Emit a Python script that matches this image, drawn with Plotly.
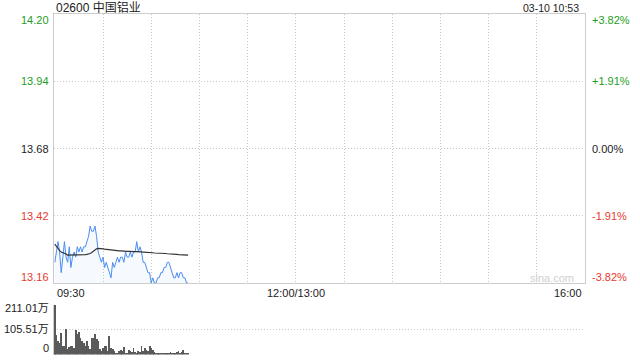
import plotly.graph_objects as go

# ---------------- data ----------------
minutes = list(range(84))  # minutes since 09:30

price = [13.24, 13.28, 13.32, 13.28, 13.20, 13.26, 13.32, 13.26, 13.24, 13.30,
         13.22, 13.26, 13.28, 13.26, 13.30, 13.28, 13.30, 13.28, 13.30, 13.30,
         13.32, 13.34, 13.38, 13.36, 13.36, 13.38, 13.34, 13.28, 13.26, 13.24,
         13.26, 13.22, 13.24, 13.22, 13.20, 13.18, 13.24, 13.22, 13.24, 13.26,
         13.24, 13.26, 13.26, 13.24, 13.28, 13.26, 13.26, 13.28, 13.26, 13.28,
         13.28, 13.32, 13.28, 13.30, 13.28, 13.24, 13.24, 13.22, 13.20, 13.20,
         13.16, 13.18, 13.16, 13.16, 13.18, 13.18, 13.20, 13.20, 13.22, 13.22,
         13.24, 13.24, 13.22, 13.20, 13.18, 13.18, 13.20, 13.18, 13.20, 13.20,
         13.18, 13.18, 13.16, 13.16]

avg_price = [13.310, 13.300, 13.290, 13.285, 13.280, 13.278, 13.275, 13.272, 13.268, 13.268,
             13.268, 13.268, 13.268, 13.268, 13.268, 13.268, 13.268, 13.268, 13.269, 13.270,
             13.271, 13.272, 13.274, 13.278, 13.283, 13.288, 13.292, 13.294, 13.294, 13.293,
             13.292, 13.291, 13.290, 13.289, 13.288, 13.287, 13.286, 13.285, 13.285, 13.284,
             13.284, 13.284, 13.283, 13.283, 13.283, 13.282, 13.282, 13.282, 13.281, 13.281,
             13.281, 13.281, 13.280, 13.280, 13.280, 13.279, 13.279, 13.278, 13.278, 13.278,
             13.277, 13.277, 13.276, 13.276, 13.276, 13.275, 13.275, 13.274, 13.274, 13.274,
             13.273, 13.273, 13.272, 13.272, 13.272, 13.271, 13.271, 13.270, 13.270, 13.270,
             13.269, 13.269, 13.268, 13.268]

volume = [211.01, 85, 58, 50, 90, 36, 36, 107, 22, 33,
          36, 36, 28, 104, 87, 97, 72, 58, 51, 36,
          58, 36, 22, 72, 72, 87, 65, 58, 22, 15,
          29, 36, 36, 15, 80, 26, 22, 15, 7, 7,
          14, 21, 17, 31, 7, 3, 21, 14, 11, 28,
          11, 7, 14, 11, 36, 14, 26, 21, 17, 36,
          28, 21, 11, 3, 3, 7, 7, 3, 7, 3,
          3, 7, 11, 7, 3, 7, 11, 14, 7, 11,
          21, 3, 5, 8]

prev_close = 13.68
price_ticks = [14.20, 13.94, 13.68, 13.42, 13.16]
price_labels = ["14.20", "13.94", "13.68", "13.42", "13.16"]
pct_labels = ["+3.82%", "+1.91%", "0.00%", "-1.91%", "-3.82%"]
vol_ticks = [211.01, 105.505, 0]
vol_labels = ["211.01万", "105.51万", "0"]
time_labels = ["09:30", "12:00/13:00", "16:00"]
title_text = "02600 中国铝业"
stamp_text = "03-10 10:53"

# ---------------- style ----------------
W, H = 640, 360
FONT = "Liberation Sans, Arial, Noto Sans CJK SC, sans-serif"
GREEN = "#1e9e1e"
RED = "#e8392f"
BLACK = "#222222"
GRID = "#c8c8c8"
BORDER = "#cccccc"
DASH = "1px,2px"

xd = [54 / W, 585 / W]
price_dom = [1 - 283 / H, 1 - 14 / H]
vol_dom = [1 - 354.5 / H, 1 - 305 / H]

fig = go.Figure()

fig.add_trace(go.Scatter(
    x=minutes, y=price, mode="lines",
    line=dict(color="#4a8ef0", width=1),
    fill="tozeroy", fillcolor="rgba(74,142,240,0.05)",
    xaxis="x", yaxis="y", showlegend=False, hoverinfo="skip"))

fig.add_trace(go.Scatter(
    x=minutes, y=avg_price, mode="lines",
    line=dict(color="#333333", width=1.2),
    xaxis="x", yaxis="y", showlegend=False, hoverinfo="skip"))

fig.add_trace(go.Bar(
    x=minutes, y=volume, width=0.55,
    marker=dict(color="#5a5a5a", line=dict(width=0)),
    xaxis="x2", yaxis="y2", showlegend=False, hoverinfo="skip"))

fig.update_layout(
    width=W, height=H,
    margin=dict(l=0, r=0, t=0, b=0),
    paper_bgcolor="white", plot_bgcolor="white",
    font=dict(family=FONT, size=11, color=BLACK),
    bargap=0,
    xaxis=dict(domain=xd, range=[-0.5, 330], anchor="y",
               tickvals=list(range(30, 330, 30)), showticklabels=False,
               showgrid=True, gridcolor=GRID, griddash=DASH, gridwidth=1,
               showline=True, mirror=True, linecolor=BORDER, linewidth=1,
               zeroline=False, ticks=""),
    yaxis=dict(domain=price_dom, range=[13.16, 14.20], anchor="x",
               tickvals=[13.42, 13.68, 13.94], showticklabels=False,
               showgrid=True, gridcolor=GRID, griddash=DASH, gridwidth=1,
               showline=True, mirror=True, linecolor=BORDER, linewidth=1,
               zeroline=False, ticks=""),
    xaxis2=dict(domain=xd, range=[-0.5, 330], anchor="y2",
                showticklabels=False, showgrid=False, showline=False,
                zeroline=False, ticks=""),
    yaxis2=dict(domain=vol_dom, range=[0, 211.01], anchor="x2",
                tickvals=vol_ticks, showticklabels=False,
                showgrid=True, gridcolor=GRID, griddash=DASH, gridwidth=1,
                showline=True, linecolor=BORDER, linewidth=1,
                zeroline=False, ticks=""),
)

ann = []
colors = [GREEN, GREEN, BLACK, RED, RED]
shifts = [-6, 0, 0, 0, 6]
for v, t, p, c, s in zip(price_ticks, price_labels, pct_labels, colors, shifts):
    ann.append(dict(x=51 / W, xref="paper", y=v, yref="y", yshift=s,
                    text=t, showarrow=False, xanchor="right", yanchor="middle",
                    font=dict(size=11, color=c)))
    ann.append(dict(x=590 / W, xref="paper", y=v, yref="y", yshift=s,
                    text=p, showarrow=False, xanchor="left", yanchor="middle",
                    font=dict(size=11, color=c)))

vshifts = [-3, 1, 7]
for v, t, s in zip(vol_ticks, vol_labels, vshifts):
    ann.append(dict(x=51 / W, xref="paper", y=v, yref="y2", yshift=s,
                    text=t, showarrow=False, xanchor="right", yanchor="middle",
                    font=dict(size=11, color=BLACK)))

ann.append(dict(x=55 / W, xref="paper", y=1 - 293 / H, yref="paper",
                text=time_labels[0], showarrow=False, xanchor="left", yanchor="middle",
                font=dict(size=11, color=BLACK)))
ann.append(dict(x=150, xref="x", y=1 - 293 / H, yref="paper",
                text=time_labels[1], showarrow=False, xanchor="center", yanchor="middle",
                font=dict(size=11, color=BLACK)))
ann.append(dict(x=584 / W, xref="paper", y=1 - 293 / H, yref="paper",
                text=time_labels[2], showarrow=False, xanchor="right", yanchor="middle",
                font=dict(size=11, color=BLACK)))

ann.append(dict(x=54 / W, xref="paper", y=1 - 7.5 / H, yref="paper",
                text=title_text, showarrow=False, xanchor="left", yanchor="middle",
                font=dict(size=12, color=BLACK)))
ann.append(dict(x=581 / W, xref="paper", y=1 - 7.5 / H, yref="paper",
                text=stamp_text, showarrow=False, xanchor="right", yanchor="middle",
                font=dict(size=10.5, color=BLACK)))
ann.append(dict(x=552 / W, xref="paper", y=1 - 278 / H, yref="paper",
                text="sina.com", showarrow=False, xanchor="center", yanchor="middle",
                font=dict(size=11, color="#d0d0d0")))

fig.update_layout(annotations=ann)

fig.write_html("out.html")
